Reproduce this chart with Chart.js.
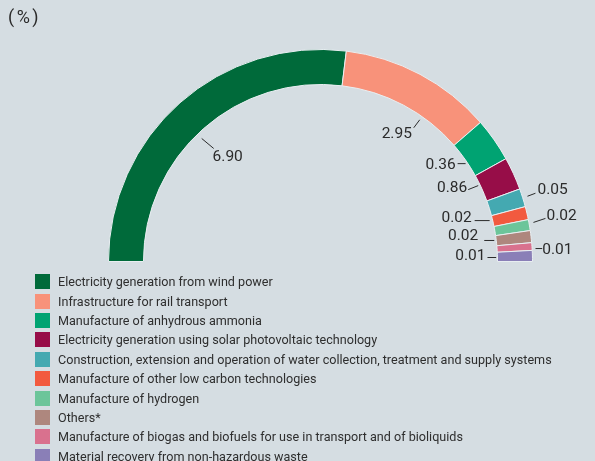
<!DOCTYPE html>
<html>
<head>
<meta charset="utf-8">
<script src="https://cdn.jsdelivr.net/npm/chart.js@4/dist/chart.umd.min.js"></script>
<style>
  html, body { margin: 0; padding: 0; background: #d5dde2; }
  #wrap { position: relative; width: 595px; height: 461px; overflow: hidden; font-family: Roboto, sans-serif; }
  #unit { position: absolute; left: 8px; top: 6px; font-size: 18px; letter-spacing: 2.5px; color: #2b2b2b; }
  #legend { position: absolute; left: 35px; top: 272px; }
  .row { height: 19.4px; display: flex; align-items: center; font-size: 12.6px; color: #2e2e2e; white-space: nowrap; }
  .sw { width: 15px; height: 15px; margin-right: 8px; flex: none; }
</style>
</head>
<body>
<div id="wrap">
  <canvas id="chart" width="595" height="461"></canvas>
  <div id="unit">(%)</div>
  <div id="legend"></div>
</div>
<script>
const categories = [
  'Electricity generation from wind power',
  'Infrastructure for rail transport',
  'Manufacture of anhydrous ammonia',
  'Electricity generation using solar photovoltaic technology',
  'Construction, extension and operation of water collection, treatment and supply systems',
  'Manufacture of other low carbon technologies',
  'Manufacture of hydrogen',
  'Others*',
  'Manufacture of biogas and biofuels for use in transport and of bioliquids',
  'Material recovery from non-hazardous waste'
];
// printed values (%)
const values = [6.90, 2.95, 0.36, 0.86, 0.05, 0.02, 0.02, 0.02, 0.01, 0.01];
// arc sizes as drawn in the original (tiny shares are enlarged there)
const arcWeights = [97, 42, 12, 9, 5, 3.6, 3, 3.3, 2.1, 3];
const colors = ['#006a3a', '#f8927a', '#00a372', '#970d48', '#44a9b1', '#f25a3f', '#6cc59a', '#ae877e', '#d9718e', '#8a7fb7'];

// where each value label sits relative to its slice
const labelLayout = [
  { ring: 'inner', dr: -6, nudge: 2.5, line: [12, 10], text: [14, 9], align: 'center' },
  { ring: 'inner', dr: -4, nudge: -7, line: [-6, 8], text: [-17, 6], align: 'center' },
  { ring: 'inner', dr: -2, nudge: -1, line: [-8, 0], text: [-2, 1], align: 'right' },
  { ring: 'inner', dr: -2, nudge: 1.2, line: [-10, 4], text: [-1, -1], align: 'right' },
  { ring: 'outer', dr: 5, nudge: 0, line: [8, -3], text: [2, -3.5], align: 'left' },
  { ring: 'inner', dr: -3, nudge: 0.4, line: [-15, 0], text: [-3, -2], align: 'right' },
  { ring: 'outer', dr: 4.5, nudge: 0.5, line: [12, -4], text: [1, -2], align: 'left' },
  { ring: 'inner', dr: -2, nudge: 0.15, line: [-10, 0], text: [-6, -4], align: 'right' },
  { ring: 'outer', dr: 3.4, nudge: -0.6, line: [6.7, 0], text: [0, 1.5], align: 'left' },
  { ring: 'inner', dr: -1.3, nudge: -0.2, line: [-8.7, 0], text: [-2, -1], align: 'right' }
];

const valueLabels = {
  id: 'valueLabels',
  afterDatasetsDraw(chart) {
    const ctx = chart.ctx;
    const arcs = chart.getDatasetMeta(0).data;
    ctx.save();
    ctx.strokeStyle = '#2b2b2b';
    ctx.lineWidth = 1;
    ctx.fillStyle = '#2b2b2b';
    ctx.font = '15.5px Roboto, sans-serif';
    ctx.textBaseline = 'middle';
    arcs.forEach((arc, i) => {
      const p = arc.getProps(['x', 'y', 'startAngle', 'endAngle', 'innerRadius', 'outerRadius'], true);
      const L = labelLayout[i];
      const a = (p.startAngle + p.endAngle) / 2 - L.nudge * Math.PI / 180;
      const r = (L.ring === 'inner' ? p.innerRadius : p.outerRadius) + L.dr;
      const x0 = p.x + r * Math.cos(a);
      const y0 = p.y + r * Math.sin(a);
      const x1 = x0 + L.line[0];
      const y1 = y0 + L.line[1];
      ctx.beginPath();
      ctx.moveTo(x0, y0);
      ctx.lineTo(x1, y1);
      ctx.stroke();
      ctx.textAlign = L.align;
      ctx.fillText(values[i].toFixed(2), x1 + L.text[0], y1 + L.text[1]);
    });
    ctx.restore();
  }
};

new Chart(document.getElementById('chart'), {
  type: 'doughnut',
  data: {
    labels: categories,
    datasets: [{
      data: arcWeights,
      backgroundColor: colors,
      borderColor: '#e8eef1',
      borderWidth: 1
    }]
  },
  options: {
    responsive: false,
    animation: false,
    rotation: -90,
    circumference: 180,
    cutout: '83.5%',
    events: [],
    layout: { padding: { left: 108, right: 62, top: 49, bottom: 199 } },
    plugins: { legend: { display: false }, tooltip: { enabled: false } }
  },
  plugins: [valueLabels]
});

const legend = document.getElementById('legend');
categories.forEach((c, i) => {
  const row = document.createElement('div');
  row.className = 'row';
  row.innerHTML = '<span class="sw" style="background:' + colors[i] + '"></span><span></span>';
  row.lastChild.textContent = c;
  legend.appendChild(row);
});
</script>
</body>
</html>
